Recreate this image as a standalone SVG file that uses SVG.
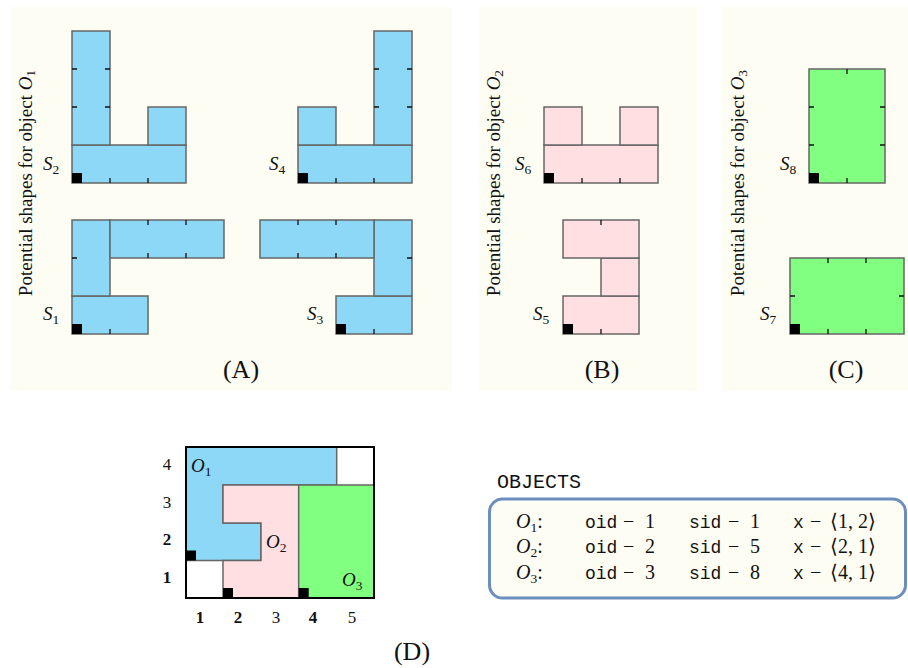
<svg xmlns="http://www.w3.org/2000/svg" width="908" height="668" viewBox="0 0 908 668" font-family="Liberation Serif, serif">
<style>
.bg{fill:#fdfdf3;stroke:none}
.b{fill:#8dd8f6;stroke:#666;stroke-width:1.5}
.p{fill:#ffdfe2;stroke:#666;stroke-width:1.5}
.g{fill:#80ff80;stroke:#666;stroke-width:1.5}
.w{fill:#fff;stroke:#666;stroke-width:1.5}
.t{stroke:#111;stroke-width:1.3;fill:none}
.o{fill:#000}
.ser{font-family:"Liberation Serif",serif}
.mono{font-family:"Liberation Mono",monospace}
.lab{font-size:19px}
.cap{font-size:26px}
.rot{font-size:19px}
.ax{font-size:17px}
.bd{font-weight:bold}
.it{font-style:italic}
.sb{font-size:13.5px}
</style>

<!-- panel backgrounds -->
<rect class="bg" x="11" y="7" width="441" height="384"/>
<rect class="bg" x="479" y="7" width="218" height="384"/>
<rect class="bg" x="722" y="7" width="186" height="384"/>

<!-- Panel A -->
<g id="panelA" class="ser" fill="#111">
  <text class="rot" transform="translate(32,183) rotate(-90)" text-anchor="middle">Potential shapes for object <tspan class="it">O</tspan><tspan class="sb" dy="3">1</tspan></text>
  <g id="S2">
    <rect class="b" x="72" y="145" width="114" height="38"/>
    <rect class="b" x="72" y="31" width="38" height="114"/>
    <rect class="b" x="148" y="107" width="38" height="38"/>
    <path class="t" d="M110 183v-5M148 183v-5M72 69h5M72 107h5M110 69h-5M110 107h-5"/>
    <rect class="o" x="72" y="173" width="10" height="10"/>
    <text class="lab" x="43" y="170"><tspan class="it">S</tspan><tspan class="sb" dy="4">2</tspan></text>
  </g>
  <g id="S4">
    <rect class="b" x="298" y="145" width="114" height="38"/>
    <rect class="b" x="298" y="107" width="38" height="38"/>
    <rect class="b" x="374" y="31" width="38" height="114"/>
    <path class="t" d="M336 183v-5M374 183v-5M374 69h5M374 107h5M412 69h-5M412 107h-5"/>
    <rect class="o" x="298" y="173" width="10" height="10"/>
    <text class="lab" x="269" y="170"><tspan class="it">S</tspan><tspan class="sb" dy="4">4</tspan></text>
  </g>
  <g id="S1">
    <rect class="b" x="72" y="296" width="76" height="38"/>
    <rect class="b" x="72" y="220" width="38" height="76"/>
    <rect class="b" x="110" y="220" width="114" height="38"/>
    <path class="t" d="M110 334v-5M72 258h5M148 220v5M186 220v5M148 258v-5M186 258v-5"/>
    <rect class="o" x="72" y="324" width="10" height="10"/>
    <text class="lab" x="43" y="320"><tspan class="it">S</tspan><tspan class="sb" dy="4">1</tspan></text>
  </g>
  <g id="S3">
    <rect class="b" x="336" y="296" width="76" height="38"/>
    <rect class="b" x="374" y="220" width="38" height="76"/>
    <rect class="b" x="260" y="220" width="114" height="38"/>
    <path class="t" d="M374 334v-5M412 258h-5M298 220v5M336 220v5M298 258v-5M336 258v-5"/>
    <rect class="o" x="336" y="324" width="10" height="10"/>
    <text class="lab" x="307" y="320"><tspan class="it">S</tspan><tspan class="sb" dy="4">3</tspan></text>
  </g>
  <text class="cap" x="241" y="378" text-anchor="middle">(A)</text>
</g>

<!-- Panel B -->
<g id="panelB" class="ser" fill="#111">
  <text class="rot" transform="translate(500,183) rotate(-90)" text-anchor="middle">Potential shapes for object <tspan class="it">O</tspan><tspan class="sb" dy="3">2</tspan></text>
  <g id="S6">
    <rect class="p" x="544" y="145" width="114" height="38"/>
    <rect class="p" x="544" y="107" width="38" height="38"/>
    <rect class="p" x="620" y="107" width="38" height="38"/>
    <path class="t" d="M582 183v-5M620 183v-5"/>
    <rect class="o" x="544" y="173" width="10" height="10"/>
    <text class="lab" x="515" y="170"><tspan class="it">S</tspan><tspan class="sb" dy="4">6</tspan></text>
  </g>
  <g id="S5">
    <rect class="p" x="563" y="296" width="76" height="38"/>
    <rect class="p" x="601" y="258" width="38" height="38"/>
    <rect class="p" x="563" y="220" width="76" height="38"/>
    <path class="t" d="M601 334v-5M601 220v5"/>
    <rect class="o" x="563" y="324" width="10" height="10"/>
    <text class="lab" x="533" y="320"><tspan class="it">S</tspan><tspan class="sb" dy="4">5</tspan></text>
  </g>
  <text class="cap" x="602" y="378" text-anchor="middle">(B)</text>
</g>

<!-- Panel C -->
<g id="panelC" class="ser" fill="#111">
  <text class="rot" transform="translate(744,183) rotate(-90)" text-anchor="middle">Potential shapes for object <tspan class="it">O</tspan><tspan class="sb" dy="3">3</tspan></text>
  <g id="S8">
    <rect class="g" x="809" y="69" width="76" height="114"/>
    <path class="t" d="M847 69v5M847 183v-5M809 107h5M809 145h5M885 107h-5M885 145h-5"/>
    <rect class="o" x="809" y="173" width="10" height="10"/>
    <text class="lab" x="780" y="170"><tspan class="it">S</tspan><tspan class="sb" dy="4">8</tspan></text>
  </g>
  <g id="S7">
    <rect class="g" x="790" y="258" width="114" height="76"/>
    <path class="t" d="M828 258v5M866 258v5M828 334v-5M866 334v-5M790 296h5M904 296h-5"/>
    <rect class="o" x="790" y="324" width="10" height="10"/>
    <text class="lab" x="760" y="320"><tspan class="it">S</tspan><tspan class="sb" dy="4">7</tspan></text>
  </g>
  <text class="cap" x="846" y="378" text-anchor="middle">(C)</text>
</g>

<!-- Panel D -->
<g id="panelD" class="ser" fill="#111">
  <rect class="w" x="186" y="447" width="188" height="151"/>
  <g id="O1">
    <path class="b" d="M186 447H336.7V485H223V523H261V560.5H186Z"/>
    <rect class="o" x="186" y="550.5" width="10" height="10"/>
    <text class="lab" x="191" y="472"><tspan class="it">O</tspan><tspan class="sb" dy="4">1</tspan></text>
  </g>
  <g id="O2">
    <path class="p" d="M223 598H298.7V485H223V523H261V560.5H223Z"/>
    <rect class="o" x="223" y="588" width="10" height="10"/>
    <text class="lab" x="266" y="548"><tspan class="it">O</tspan><tspan class="sb" dy="4">2</tspan></text>
  </g>
  <g id="O3">
    <rect class="g" x="298.7" y="485" width="75.3" height="113"/>
    <rect class="o" x="298.7" y="588" width="10" height="10"/>
    <text class="lab" x="342" y="586"><tspan class="it">O</tspan><tspan class="sb" dy="4">3</tspan></text>
  </g>
  <rect x="186" y="447" width="188" height="151" fill="none" stroke="#000" stroke-width="2"/>
  <g id="axes" class="ax" text-anchor="middle">
    <text x="167" y="470">4</text>
    <text x="167" y="508">3</text>
    <text x="167" y="545" class="bd">2</text>
    <text x="167" y="583" class="bd">1</text>
    <text x="200" y="623" class="bd">1</text>
    <text x="238" y="623" class="bd">2</text>
    <text x="276" y="623">3</text>
    <text x="313" y="623" class="bd">4</text>
    <text x="352" y="623">5</text>
  </g>
  <text class="cap" x="412" y="660" text-anchor="middle">(D)</text>
</g>

<!-- Objects box -->
<g id="objects" fill="#111">
  <text class="mono" font-size="20" x="497" y="488">OBJECTS</text>
  <rect x="489.5" y="499" width="416" height="99" rx="13" ry="13" fill="#fdfdf3" stroke="#6c8ebf" stroke-width="3"/>
  <g class="ser" font-size="20">
    <text x="516" y="528"><tspan class="it">O</tspan><tspan class="sb" dy="4">1</tspan><tspan dy="-4">:</tspan></text>
    <text x="516" y="553"><tspan class="it">O</tspan><tspan class="sb" dy="4">2</tspan><tspan dy="-4">:</tspan></text>
    <text x="516" y="579"><tspan class="it">O</tspan><tspan class="sb" dy="4">3</tspan><tspan dy="-4">:</tspan></text>
  </g>
  <g class="mono" font-size="18">
    <text x="585" y="528">oid</text><text x="585" y="553">oid</text><text x="585" y="579">oid</text>
    <text x="689" y="528">sid</text><text x="689" y="553">sid</text><text x="689" y="579">sid</text>
    <text x="793" y="528">x</text><text x="793" y="553">x</text><text x="793" y="579">x</text>
  </g>
  <g class="ser" font-size="20">
    <text x="623" y="528">−</text><text x="645" y="528">1</text>
    <text x="623" y="553">−</text><text x="645" y="553">2</text>
    <text x="623" y="579">−</text><text x="645" y="579">3</text>
    <text x="728" y="528">−</text><text x="750" y="528">1</text>
    <text x="728" y="553">−</text><text x="750" y="553">5</text>
    <text x="728" y="579">−</text><text x="750" y="579">8</text>
    <text x="810" y="528">−</text><text x="830" y="528">⟨1, 2⟩</text>
    <text x="810" y="553">−</text><text x="830" y="553">⟨2, 1⟩</text>
    <text x="810" y="579">−</text><text x="830" y="579">⟨4, 1⟩</text>
  </g>
</g>
</svg>
